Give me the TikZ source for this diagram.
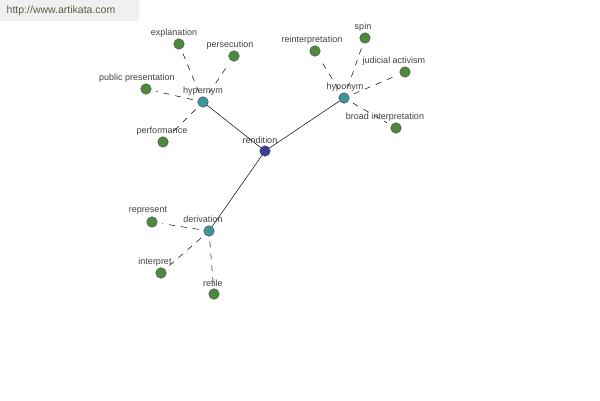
\documentclass[tikz,border=0pt]{standalone}
\usepackage{fontspec}
\setmainfont{Liberation Sans}
\begin{document}
\begin{tikzpicture}[x=1pt,y=-1pt,
  leaf/.style={circle,draw=black!70,fill={rgb,255:red,78;green,138;blue,62},minimum size=10.5pt,inner sep=0pt,line width=0.5pt},
  hub/.style={circle,draw=black!70,fill={rgb,255:red,60;green,150;blue,155},minimum size=10.5pt,inner sep=0pt,line width=0.5pt},
  root/.style={circle,draw=black!70,fill={rgb,255:red,60;green,60;blue,150},minimum size=10.5pt,inner sep=0pt,line width=0.5pt},
  lbl/.style={font=\fontsize{9}{10}\selectfont,text=black!75,inner sep=1pt},
  solidlink/.style={draw=black,line width=0.5pt},
  dashlink/.style={draw=black,line width=0.5pt,dash pattern=on 6pt off 6pt,shorten <=5pt,shorten >=5pt}]
\useasboundingbox (0,0) rectangle (600,400);
\fill[black!6] (0,0) rectangle (139,21);
\node[font=\fontsize{10.5}{12}\selectfont,text={rgb,255:red,80;green,100;blue,60}] (wm) at (61,11) {http://www.artikata.com};
% nodes
\node[root] (rend) at (265,151) {};
\node[hub] (hyper) at (203,102) {};
\node[hub] (hypo) at (344,98) {};
\node[hub] (deriv) at (209,231) {};
\node[leaf] (expl) at (179,44) {};
\node[leaf] (pers) at (234,56) {};
\node[leaf] (pubp) at (146,89) {};
\node[leaf] (perf) at (163,142) {};
\node[leaf] (reint) at (315,51) {};
\node[leaf] (spin) at (365,38) {};
\node[leaf] (jud) at (405,72) {};
\node[leaf] (broad) at (396,128) {};
\node[leaf] (repr) at (152,222) {};
\node[leaf] (interp) at (161,273) {};
\node[leaf] (retile) at (214,294) {};
% links
\draw[solidlink] (rend) -- (hyper);
\draw[solidlink] (rend) -- (hypo);
\draw[solidlink] (rend) -- (deriv);
\foreach \a in {expl,pers,pubp,perf} \draw[dashlink] (hyper) -- (\a);
\foreach \a in {reint,spin,jud,broad} \draw[dashlink] (hypo) -- (\a);
\foreach \a in {repr,interp,retile} \draw[dashlink] (deriv) -- (\a);
% labels
\node[lbl] (lrend) at (260,140) {rendition};
\node[lbl] (lhyper) at (203,91) {hypernym};
\node[lbl] (lhypo) at (345,87) {hyponym};
\node[lbl] (lderiv) at (203,219) {derivation};
\node[lbl] (lexpl) at (174,33) {explanation};
\node[lbl] (lpers) at (230,45) {persecution};
\node[lbl] (lpubp) at (137,78) {public presentation};
\node[lbl] (lperf) at (162,131) {performance};
\node[lbl] (lreint) at (312,40) {reinterpretation};
\node[lbl] (lspin) at (363,27) {spin};
\node[lbl] (ljud) at (394,61) {judicial activism};
\node[lbl] (lbroad) at (385,117) {broad interpretation};
\node[lbl] (lrepr) at (148,211) {represent};
\node[lbl] (linterp) at (155,262) {interpret};
\node[lbl] (lretile) at (213,283) {retile};
\end{tikzpicture}
\end{document}
